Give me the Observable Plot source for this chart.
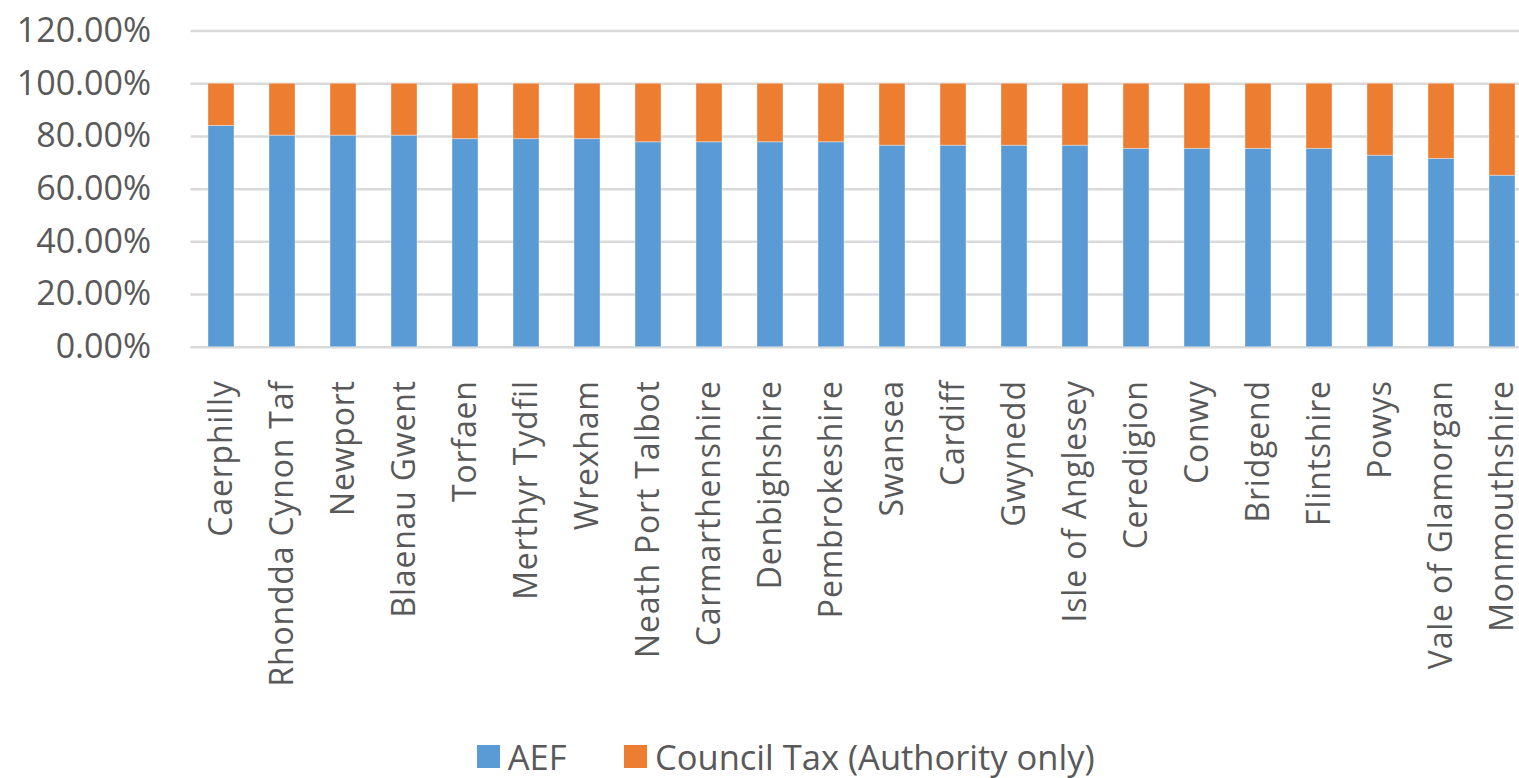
<!DOCTYPE html>
<html>
<head>
<meta charset="utf-8">
<script src="https://cdn.jsdelivr.net/npm/d3@7"></script>
<script src="https://cdn.jsdelivr.net/npm/@observablehq/plot@0.6"></script>
<style>
  html, body { margin: 0; padding: 0; background: #fff; overflow: hidden; width: 1519px; height: 778px; }
  #chart { position: absolute; left: 0; top: 0; }
  #legend { position: absolute; left: 0; top: 735px; width: 1519px; height: 43px; font-family: "Open Sans", sans-serif; font-size: 34.5px; color: #595959; }
  .item { position: absolute; top: 0; height: 43px; display: flex; align-items: center; white-space: nowrap; }
  .sw { display: inline-block; width: 23px; height: 23px; margin-right: 8px; }
  g[aria-label="x-axis tick label"] text { letter-spacing: 0.8px; }
</style>
</head>
<body>
<div id="chart"></div>
<div id="legend"></div>
<script>
const categories = ["Caerphilly", "Rhondda Cynon Taf", "Newport", "Blaenau Gwent", "Torfaen", "Merthyr Tydfil", "Wrexham", "Neath Port Talbot", "Carmarthenshire", "Denbighshire", "Pembrokeshire", "Swansea", "Cardiff", "Gwynedd", "Isle of Anglesey", "Ceredigion", "Conwy", "Bridgend", "Flintshire", "Powys", "Vale of Glamorgan", "Monmouthshire"];
const aef = [84.0, 80.3, 80.3, 80.3, 79.0, 79.0, 79.0, 77.8, 77.8, 77.8, 77.8, 76.5, 76.5, 76.5, 76.5, 75.3, 75.3, 75.3, 75.3, 72.7, 71.5, 65.1];
const councilTax = [16.0, 19.7, 19.7, 19.7, 21.0, 21.0, 21.0, 22.2, 22.2, 22.2, 22.2, 23.5, 23.5, 23.5, 23.5, 24.7, 24.7, 24.7, 24.7, 27.3, 28.5, 34.9];
const seriesNames = ["AEF", "Council Tax (Authority only)"];
const seriesColors = ["#5B9BD5", "#ED7D31"];
const yTicks = [0, 20, 40, 60, 80, 100, 120];

const rows = [];
categories.forEach((c, i) => {
  rows.push({area: c, series: seriesNames[0], value: aef[i]});
  rows.push({area: c, series: seriesNames[1], value: councilTax[i]});
});

const plot = Plot.plot({
  width: 1519,
  height: 720,
  marginLeft: 190.5,
  marginRight: -14,
  marginTop: 30.6,
  marginBottom: 373.3,
  style: {fontFamily: "'Open Sans', sans-serif", fontSize: "34px", color: "#595959", background: "#fff", overflow: "visible"},
  x: {domain: categories, paddingInner: 0.58, paddingOuter: 0.29, label: null},
  y: {domain: [0, 120], label: null},
  color: {domain: seriesNames, range: seriesColors},
  marks: [
    Plot.ruleY(yTicks, {stroke: "#d9d9d9", strokeWidth: 2.5}),
    Plot.barY(rows, Plot.stackY({x: "area", y: "value", fill: "series", order: seriesNames, stroke: "#ffffff", strokeOpacity: 0.35, strokeWidth: 1})),
    Plot.axisY({ticks: yTicks, tickSize: 0, tickPadding: 40, tickFormat: d => d.toFixed(2) + "%", fill: "#595959", fontSize: 34, label: null}),
    Plot.axisX({tickSize: 0, tickPadding: 33, tickRotate: -90, fill: "#595959", fontSize: 32, label: null})
  ]
});
document.getElementById("chart").appendChild(plot);

const legend = document.getElementById("legend");
const positions = [476.7, 624];
seriesNames.forEach((name, i) => {
  const item = document.createElement("div");
  item.className = "item";
  item.style.left = positions[i] + "px";
  const sw = document.createElement("span");
  sw.className = "sw";
  sw.style.background = seriesColors[i];
  item.appendChild(sw);
  item.appendChild(document.createTextNode(name));
  legend.appendChild(item);
});
</script>
</body>
</html>
